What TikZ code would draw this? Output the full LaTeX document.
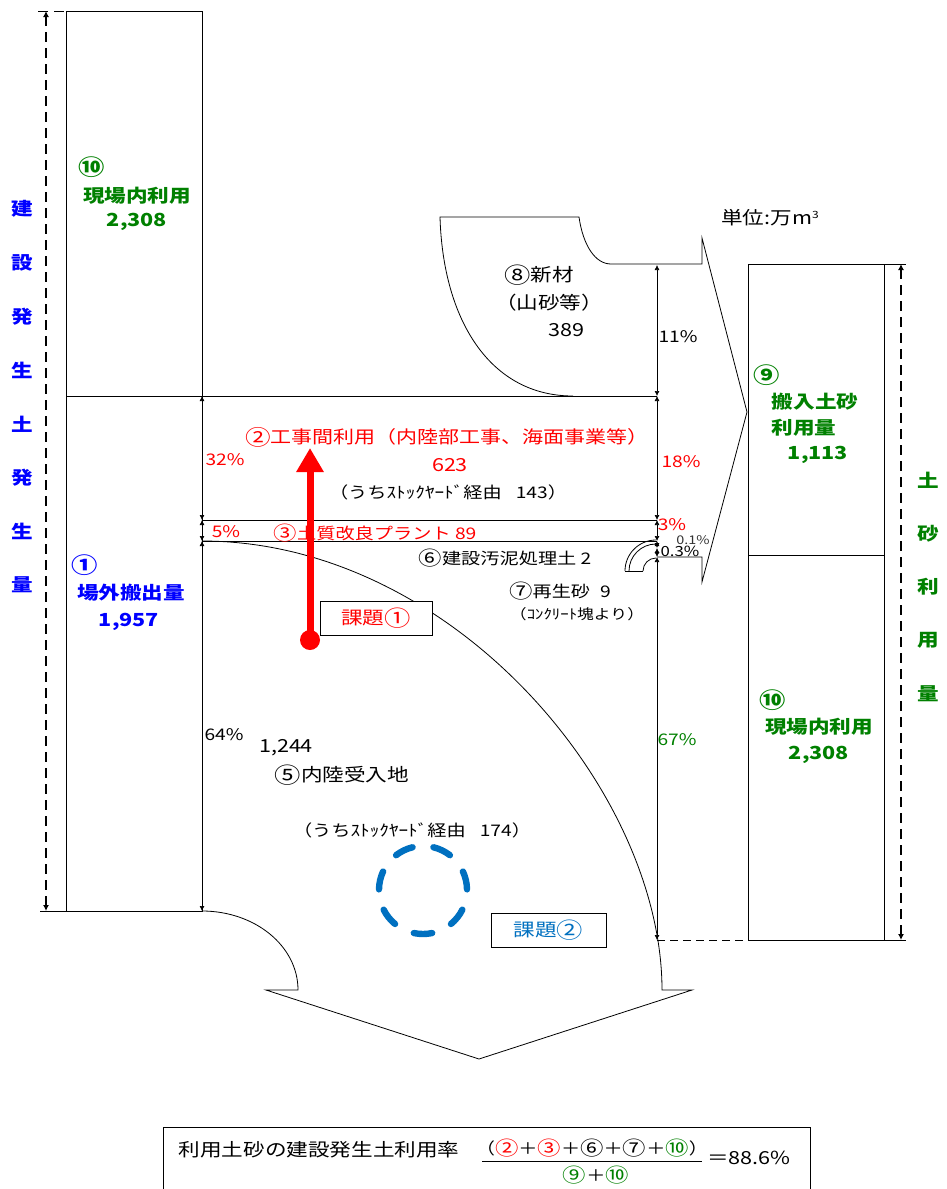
\documentclass[tikz,border=0pt]{standalone}
\usepackage{fontspec}
\setmainfont{Noto Sans CJK JP}[FakeStretch=1.2]
\usetikzlibrary{arrows.meta}
\definecolor{jblue}{RGB}{0,0,255}
\definecolor{jgreen}{RGB}{0,128,0}
\definecolor{jred}{RGB}{255,0,0}
\definecolor{kblue}{RGB}{0,112,192}
\newcommand\fsz[1]{\fontsize{#1}{#1}\selectfont}
\newcommand\cn[1]{\raisebox{-0.08em}{\scalebox{1.22}{#1}}}
\begin{document}
\begin{tikzpicture}[x=1pt,y=-1pt,
  every node/.style={inner sep=0pt},
  ln/.style={line width=0.8pt},
  dimline/.style={line width=0.7pt,{Latex[length=5pt,width=5pt]}-{Latex[length=5pt,width=5pt]}},
  dashdim/.style={line width=1.2pt,dash pattern=on 10pt off 6pt,{Latex[length=6pt,width=6pt]}-{Latex[length=6pt,width=6pt]}},
  lab/.style={font=\fsz{18}},
  labs/.style={font=\fsz{16}},
  labb/.style={font=\fsz{18}\bfseries},
  pct/.style={font=\fsz{16}},
  tiny/.style={font=\fsz{12}},
  vtl/.style={font=\fsz{18}\bfseries,text=jblue},
  vtr/.style={font=\fsz{18}\bfseries,text=jgreen},
  kbox/.style={draw,fill=white,line width=1pt,minimum height=34pt,font=\fsz{18}}]
\useasboundingbox (0,0) rectangle (946,1189);

% ---------- left column ----------
\draw[ln] (66,11) rectangle (202,911);
\draw[ln] (66,396) -- (657,396);
\coordinate (LT) at (46,11);
\coordinate (LB) at (46,911);
\draw[dashdim] (LT) -- (LB);
\draw[line width=1pt,dash pattern=on 10pt off 6pt] (38,11) -- (66,11);
\draw[line width=1pt] (40,911) -- (66,911);

\foreach \c [count=\i] in {建,設,発,生,土,発,生,量}
  \node[vtl] (vl\i) at (22,{209+53.7*(\i-1)}) {\c};

\node[labb,text=jgreen] (n10a) at (92,167) {\cn{⑩}};
\node[labb,text=jgreen] (n10b) at (137,196) {現場内利用};
\node[labb,text=jgreen] (n10c) at (137,222) {2,308};
\node[labb,text=jblue] (n1a) at (85,565) {\cn{①}};
\node[labb,text=jblue] (n1b) at (131,593) {場外搬出量};
\node[labb,text=jblue] (n1c) at (129,622) {1,957};

% ---------- dimension lines ----------
\coordinate (a0) at (202,396);
\coordinate (a1) at (202,520);
\coordinate (a2) at (202,541);
\coordinate (a3) at (202,911);
\draw[dimline] (a0) -- (a1);
\draw[dimline] (a1) -- (a2);
\draw[dimline] (a2) -- (a3);
\coordinate (b0) at (657,265);
\coordinate (b1) at (657,396);
\coordinate (b2) at (657,520);
\coordinate (b3) at (657,541);
\coordinate (b4) at (657,548);
\coordinate (b5) at (657,557);
\coordinate (b6) at (657,940);
\draw[dimline] (b0) -- (b1);
\draw[dimline] (b1) -- (b2);
\draw[dimline] (b2) -- (b3);
\draw[dimline] (b3) -- (b4);
\draw[dimline] (b4) -- (b5);
\draw[dimline] (b5) -- (b6);

\draw[ln] (a1) -- (b2);
\draw[ln] (a2) -- (b3);

% ---------- new material shape and right arrow ----------
\draw[ln] (573,396) .. controls (490,396) and (443,320) .. (440,217) -- (579,217)
  .. controls (583,245) and (595,264) .. (611,264) -- (702,264) -- (702,238)
  -- (747,412) -- (702,582) -- (702,557) -- (b5);

% pipe
\draw[ln] (625,571) arc[start angle=180,end angle=270,radius=31];
\draw[ln] (629,571) arc[start angle=180,end angle=270,radius=27];
\draw[ln] (643,571) arc[start angle=180,end angle=270,radius=13];
\draw[ln] (625,571) -- (643,571);

% ---------- bottom big arrow ----------
\draw[ln] (a3) .. controls (255,911) and (298,946) .. (298,990) -- (266,990)
  -- (479,1059) -- (692,990) -- (662,990)
  .. controls (662,790) and (452,541) .. (a2);

% ---------- right column ----------
\draw[ln] (748,264) rectangle (884,940);
\draw[ln] (748,555) -- (884,555);
\coordinate (RT) at (901,264);
\coordinate (RB) at (901,940);
\draw[dashdim] (RT) -- (RB);
\draw[line width=1pt] (884,264) -- (906,264);
\draw[line width=1pt] (884,940) -- (906,940);
\draw[line width=1pt,dash pattern=on 8pt off 5pt] (b6) -- (748,940);

\foreach \c [count=\i] in {土,砂,利,用,量}
  \node[vtr] (vr\i) at (928,{480+53.5*(\i-1)}) {\c};

\node[labb,text=jgreen] (n9a) at (767,375) {\cn{⑨}};
\node[labb,text=jgreen] (n9b) at (815,402) {搬入土砂};
\node[labb,text=jgreen] (n9c) at (804,428) {利用量};
\node[labb,text=jgreen] (n9d) at (818,455) {1,113};
\node[labb,text=jgreen] (n10d) at (773,700) {\cn{⑩}};
\node[labb,text=jgreen] (n10e) at (819,727) {現場内利用};
\node[labb,text=jgreen] (n10f) at (819,755) {2,308};

\node[lab] (unit) at (770,218) {単位:万m\raisebox{6pt}{\fsz{10}3}};

% ---------- texts in middle ----------
\node[lab] (n8a) at (539,275) {\cn{⑧}新材};
\node[lab] (n8b) at (549,303) {（山砂等）};
\node[lab] (n8c) at (566,330) {389};
\node[pct] (p11) at (678,337) {11\%};

\node[font=\fsz{17.5},text=jred] (n2a) at (447,437) {\cn{②}工事間利用（内陸部工事、海面事業等）};
\node[lab,text=jred] (n2b) at (450,465) {623};
\node[labs] (n2c) at (448,492) {（うちｽﾄｯｸﾔｰﾄﾞ経由\hspace{14pt}143）};
\node[pct,text=jred] (p32) at (225,460) {32\%};
\node[pct,text=jred] (p18) at (681,462) {18\%};
\node[pct,text=jred] (p5) at (226,532) {5\%};
\node[labs,text=jred] (n3) at (375,533) {\cn{③}土質改良プラント 89};
\node[pct,text=jred] (p3) at (672,525) {3\%};
\node[tiny,text=black!80] (p01) at (693,540) {0.1\%};
\node[font=\fsz{14}] (p03) at (680,551) {0.3\%};
\node[labs] (n6) at (505,558) {\cn{⑥}建設汚泥処理土 2};
\node[labs] (n7a) at (560,591) {\cn{⑦}再生砂\hspace{10pt}9};
\node[font=\fsz{14}] (n7b) at (577,614) {（ｺﾝｸﾘｰﾄ塊より）};

\node[pct] (p64) at (224,735) {64\%};
\node[lab] (n5a) at (286,748) {1,244};
\node[lab] (n5b) at (342,775) {\cn{⑤}内陸受入地};
\node[labs] (n5c) at (412,830) {（うちｽﾄｯｸﾔｰﾄﾞ経由\hspace{14pt}174）};
\node[pct,text=jgreen] (p67) at (677,740) {67\%};

% ---------- issue boxes ----------
\node[kbox,text=jred,minimum width=112pt] (k1) at (376,618) {課題\cn{①}};
\node[kbox,text=kblue,minimum width=115pt] (k2) at (548.5,930) {課題\cn{②}};

% red arrow
\coordinate (ra0) at (310,640);
\coordinate (ra1) at (310,448);
\draw[jred,line width=7pt,-{Triangle[length=24pt,width=26pt]}] (ra0) -- (ra1);
\fill[jred] (ra0) circle (10);

% blue dashed circle
\coordinate (bc) at (423,890);
\foreach \k in {0,...,6}{
  \pgfmathsetmacro\s{270+25.714+51.428*\k-12}
  \draw[kblue,line width=6.4pt,line cap=round] (bc) ++(\s:44) arc[start angle=\s,end angle=\s+24,radius=44];
}

% ---------- formula ----------
\draw[line width=1pt] (163,1200) -- (163,1127) -- (810,1127) -- (810,1200);
\node[lab] (f1) at (319,1150) {利用土砂の建設発生土利用率};
\node[font=\fsz{16}] (f2) at (592,1148) {（{\color{jred}\cn{②}}＋{\color{jred}\cn{③}}＋\cn{⑥}＋\cn{⑦}＋{\color{jgreen}\cn{⑩}}）};
\coordinate (fb0) at (482,1161);
\coordinate (fb1) at (702,1161);
\draw[line width=1pt] (fb0) -- (fb1);
\node[font=\fsz{16}] (f3) at (596,1175) {{\color{jgreen}\cn{⑨}}＋{\color{jgreen}\cn{⑩}}};
\node[lab] (f4) at (749,1158) {＝88.6\%};
\end{tikzpicture}
\end{document}
